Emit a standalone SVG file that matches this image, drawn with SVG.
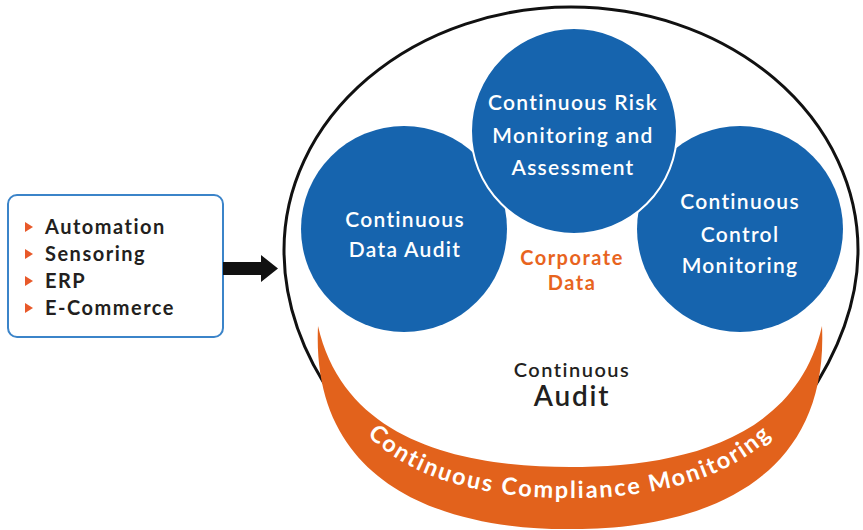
<svg xmlns="http://www.w3.org/2000/svg" width="863" height="530" viewBox="0 0 863 530">
  <defs>
    <style>
      .circle { fill: #1664ae; }
      .ctext { font-family: Lato, "Open Sans", sans-serif; font-size: 21px; font-weight: 600; fill: #ffffff; text-anchor: middle; letter-spacing: 1.3px; }
      .btext { font-family: Lato, "Open Sans", sans-serif; font-size: 20px; font-weight: 700; fill: #231f20; letter-spacing: 1.5px; }
      .bullet { fill: #e8592a; }
      .orange-text { font-family: Lato, "Open Sans", sans-serif; font-size: 20px; font-weight: 700; fill: #e8641e; text-anchor: middle; letter-spacing: 1.5px; }
      .dark-text { font-family: Lato, "Open Sans", sans-serif; font-weight: 600; fill: #231f20; text-anchor: middle; }
      .band-text { font-family: Lato, "Open Sans", sans-serif; font-size: 23.5px; font-weight: 700; fill: #ffffff; letter-spacing: 2px; }
    </style>
    <path id="bandPath" d="M 323 327 C 329 470, 470 499, 570 498 C 670 499, 811 470, 817 327"/>
  </defs>
  <rect x="0" y="0" width="863" height="530" fill="#ffffff"/>

  <g id="continuous-audit">
    <path d="M 335 400 C 300 350, 284 300, 284 250 A 287 243 0 0 1 858 250 C 858 300, 840 350, 806 400" fill="none" stroke="#111111" stroke-width="3"/>
    <text class="dark-text" x="572" y="377" font-size="20" letter-spacing="1.5">Continuous</text>
    <text class="dark-text" x="572" y="406" font-size="28" letter-spacing="1.8">Audit</text>
  </g>

  <g id="continuous-compliance-monitoring">
    <path d="M 318 326 C 310 500, 470 530, 570 529 C 670 530, 830 500, 822 326 C 795 445, 670 467, 570 467 C 470 467, 345 445, 318 326 Z" fill="#e2621c"/>
    <text class="band-text"><textPath href="#bandPath" startOffset="50%" text-anchor="middle">Continuous Compliance Monitoring</textPath></text>
  </g>

  <g id="continuous-data-audit">
    <circle class="circle" cx="404" cy="229" r="103"/>
    <text class="ctext" x="405" y="227">Continuous</text>
    <text class="ctext" x="405" y="257">Data Audit</text>
  </g>

  <g id="continuous-control-monitoring">
    <circle class="circle" cx="740" cy="229" r="103"/>
    <text class="ctext" x="740" y="209">Continuous</text>
    <text class="ctext" x="740" y="242">Control</text>
    <text class="ctext" x="740" y="273">Monitoring</text>
  </g>

  <g id="continuous-risk-monitoring">
    <circle class="circle" cx="574" cy="131" r="103" stroke="#ffffff" stroke-width="2"/>
    <text class="ctext" x="573" y="110">Continuous Risk</text>
    <text class="ctext" x="573" y="143">Monitoring and</text>
    <text class="ctext" x="573" y="175">Assessment</text>
  </g>

  <g id="corporate-data">
    <text class="orange-text" x="572" y="265">Corporate</text>
    <text class="orange-text" x="572" y="290">Data</text>
  </g>

  <g id="data-sources">
    <rect x="8" y="195" width="215" height="142" rx="9" ry="9" fill="#ffffff" stroke="#3b84c9" stroke-width="2"/>
    <polygon class="bullet" points="25,222 33,227 25,232"/>
    <text class="btext" x="45" y="234">Automation</text>
    <polygon class="bullet" points="25,249 33,254 25,259"/>
    <text class="btext" x="45" y="261">Sensoring</text>
    <polygon class="bullet" points="25,276 33,281 25,286"/>
    <text class="btext" x="45" y="288">ERP</text>
    <polygon class="bullet" points="25,303 33,308 25,313"/>
    <text class="btext" x="45" y="315">E-Commerce</text>
  </g>

  <g id="connectors">
    <polygon points="223,262 261,262 261,255 278,268.5 261,282 261,275 223,275" fill="#111111"/>
  </g>
</svg>
